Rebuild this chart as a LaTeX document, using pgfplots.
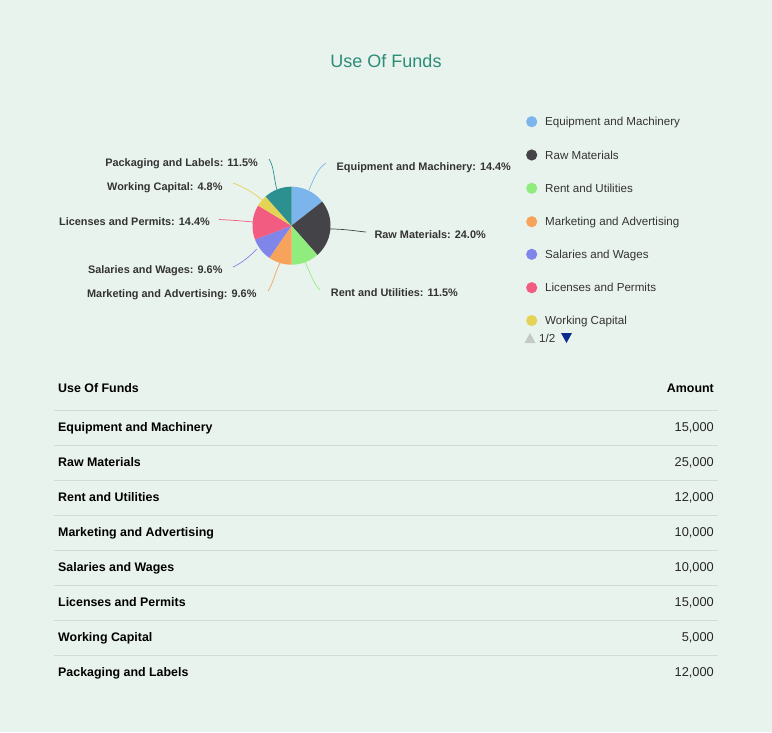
\documentclass[border=0pt]{standalone}
\usepackage{fontspec}
\setmainfont{Liberation Sans}
\usepackage{pgfplots}
\pgfplotsset{compat=1.18}
\definecolor{bg}{HTML}{E9F3ED}
\definecolor{ttl}{HTML}{2B8C78}
\definecolor{lab}{HTML}{333333}
\definecolor{cA}{HTML}{7CB5EC}
\definecolor{cB}{HTML}{434348}
\definecolor{cC}{HTML}{90ED7D}
\definecolor{cD}{HTML}{F7A35C}
\definecolor{cE}{HTML}{8085E9}
\definecolor{cF}{HTML}{F15C80}
\definecolor{cG}{HTML}{E4D354}
\definecolor{cH}{HTML}{2B908F}
\definecolor{grid}{HTML}{D3DBD6}
\definecolor{navblue}{HTML}{0A2A8C}
\definecolor{navgray}{HTML}{C4C9C6}
% Amounts: 15000, 25000, 12000, 10000, 10000, 15000, 5000, 12000 (total 104000)
% Slice angles (screen degrees, clockwise from top)
\begin{document}
\begin{tikzpicture}
\begin{axis}[width=772pt,height=732pt,scale only axis,
  xmin=0,xmax=772,ymin=0,ymax=732,y dir=reverse,hide axis,clip=false]
\fill[bg] (rel axis cs:0,0) rectangle (rel axis cs:1,1);
% title
\node[text=ttl,font=\fontsize{18}{20}\selectfont,text height=13pt,text depth=0pt] at (axis cs:386,61) {Use Of Funds};
% pie slices
\addplot[fill=cA,draw=none,domain=38.08:90,samples=40] ({291.5+39*cos(x)},{225.7-39*sin(x)}) -- (axis cs:291.5,225.7) -- cycle;
\addplot[fill=cB,draw=none,domain=-48.46:38.08,samples=40] ({291.5+39*cos(x)},{225.7-39*sin(x)}) -- (axis cs:291.5,225.7) -- cycle;
\addplot[fill=cC,draw=none,domain=-90:-48.46,samples=40] ({291.5+39*cos(x)},{225.7-39*sin(x)}) -- (axis cs:291.5,225.7) -- cycle;
\addplot[fill=cD,draw=none,domain=-124.62:-90,samples=40] ({291.5+39*cos(x)},{225.7-39*sin(x)}) -- (axis cs:291.5,225.7) -- cycle;
\addplot[fill=cE,draw=none,domain=-159.23:-124.62,samples=40] ({291.5+39*cos(x)},{225.7-39*sin(x)}) -- (axis cs:291.5,225.7) -- cycle;
\addplot[fill=cF,draw=none,domain=-211.15:-159.23,samples=40] ({291.5+39*cos(x)},{225.7-39*sin(x)}) -- (axis cs:291.5,225.7) -- cycle;
\addplot[fill=cG,draw=none,domain=-228.46:-211.15,samples=40] ({291.5+39*cos(x)},{225.7-39*sin(x)}) -- (axis cs:291.5,225.7) -- cycle;
\addplot[fill=cH,draw=none,domain=-270:-228.46,samples=40] ({291.5+39*cos(x)},{225.7-39*sin(x)}) -- (axis cs:291.5,225.7) -- cycle;
% connectors
\draw[cA,line width=0.7pt] (axis cs:309,190) .. controls (axis cs:314,178) and (axis cs:318,168) .. (axis cs:326,163);
\draw[cB,line width=0.7pt] (axis cs:330,229) .. controls (axis cs:345,229) and (axis cs:355,231) .. (axis cs:366,232);
\draw[cC,line width=0.7pt] (axis cs:305,262) .. controls (axis cs:310,272) and (axis cs:313,283) .. (axis cs:320,290);
\draw[cD,line width=0.7pt] (axis cs:280,263) .. controls (axis cs:275,272) and (axis cs:273,284) .. (axis cs:268,291);
\draw[cE,line width=0.7pt] (axis cs:257,249) .. controls (axis cs:250,256) and (axis cs:242,263) .. (axis cs:233,267);
\draw[cF,line width=0.7pt] (axis cs:253,222) .. controls (axis cs:243,221) and (axis cs:230,220) .. (axis cs:219,219.5);
\draw[cG,line width=0.7pt] (axis cs:262,200) .. controls (axis cs:254,193) and (axis cs:244,187) .. (axis cs:233,183);
\draw[cH,line width=0.7pt] (axis cs:277,190) .. controls (axis cs:274,180) and (axis cs:274,166) .. (axis cs:269,159);
% pie labels
\tikzset{plab/.style={text=lab,font=\fontsize{10.9}{12}\selectfont\bfseries,inner sep=0pt,text height=7.9pt,text depth=0pt}}
\node[plab,anchor=west] at (axis cs:336.5,167) {Equipment and Machinery: 14.4\%};
\node[plab,anchor=west] at (axis cs:374.3,234.3) {Raw Materials: 24.0\%};
\node[plab,anchor=west] at (axis cs:330.7,292.3) {Rent and Utilities: 11.5\%};
\node[plab,anchor=east] at (axis cs:256.7,294) {Marketing and Advertising: 9.6\%};
\node[plab,anchor=east] at (axis cs:222.7,270) {Salaries and Wages: 9.6\%};
\node[plab,anchor=east] at (axis cs:210,222) {Licenses and Permits: 14.4\%};
\node[plab,anchor=east] at (axis cs:222.7,186.7) {Working Capital: 4.8\%};
\node[plab,anchor=east] at (axis cs:258,163) {Packaging and Labels: 11.5\%};
% legend
\tikzset{leg/.style={text=lab,font=\fontsize{11.6}{14}\selectfont,inner sep=0pt,anchor=west,text height=8.4pt,text depth=0pt}}
\fill[cA] (axis cs:531.7,121.7) circle[radius=5.6pt];
\node[leg] at (axis cs:545,121.7) {Equipment and Machinery};
\fill[cB] (axis cs:531.7,155) circle[radius=5.6pt];
\node[leg] at (axis cs:545,155) {Raw Materials};
\fill[cC] (axis cs:531.7,188.3) circle[radius=5.6pt];
\node[leg] at (axis cs:545,188.3) {Rent and Utilities};
\fill[cD] (axis cs:531.7,221.7) circle[radius=5.6pt];
\node[leg] at (axis cs:545,221.7) {Marketing and Advertising};
\fill[cE] (axis cs:531.7,254.3) circle[radius=5.6pt];
\node[leg] at (axis cs:545,254.3) {Salaries and Wages};
\fill[cF] (axis cs:531.7,287.7) circle[radius=5.6pt];
\node[leg] at (axis cs:545,287.7) {Licenses and Permits};
\begin{scope}
\clip (axis cs:520,300) rectangle (axis cs:700,326);
\fill[cG] (axis cs:531.7,320.5) circle[radius=5.6pt];
\node[leg] at (axis cs:545,320.5) {Working Capital};
\end{scope}
% navigation
\fill[navgray] (axis cs:524.5,343) -- (axis cs:535.5,343) -- (axis cs:530,333) -- cycle;
\node[leg] at (axis cs:539,338.3) {1/2};
\fill[navblue] (axis cs:561,333) -- (axis cs:572,333) -- (axis cs:566.5,343) -- cycle;
% table
\pgfplotsinvokeforeach{410,445,480,515,550,585,620,655}{
  \draw[grid,line width=0.8pt] (axis cs:54,#1) -- (axis cs:718,#1);
}
\tikzset{tn/.style={text=black,font=\fontsize{12.4}{15}\selectfont\bfseries,inner sep=0pt,anchor=west,text height=9pt,text depth=0pt},
         tv/.style={text=black!85,font=\fontsize{12.8}{15}\selectfont,inner sep=0pt,anchor=east,text height=9.2pt,text depth=0pt}}
\node[tn] at (axis cs:58,388.3) {Use Of Funds};
\node[tn,anchor=east] at (axis cs:714,388.3) {Amount};
\node[tn] at (axis cs:58,427.3) {Equipment and Machinery};
\node[tv] at (axis cs:714,427.3) {15,000};
\node[tn] at (axis cs:58,462.3) {Raw Materials};
\node[tv] at (axis cs:714,462.3) {25,000};
\node[tn] at (axis cs:58,497.2) {Rent and Utilities};
\node[tv] at (axis cs:714,497.2) {12,000};
\node[tn] at (axis cs:58,532.1) {Marketing and Advertising};
\node[tv] at (axis cs:714,532.1) {10,000};
\node[tn] at (axis cs:58,567) {Salaries and Wages};
\node[tv] at (axis cs:714,567) {10,000};
\node[tn] at (axis cs:58,601.9) {Licenses and Permits};
\node[tv] at (axis cs:714,601.9) {15,000};
\node[tn] at (axis cs:58,636.8) {Working Capital};
\node[tv] at (axis cs:714,636.8) {5,000};
\node[tn] at (axis cs:58,671.7) {Packaging and Labels};
\node[tv] at (axis cs:714,671.7) {12,000};
\end{axis}
\end{tikzpicture}
\end{document}
